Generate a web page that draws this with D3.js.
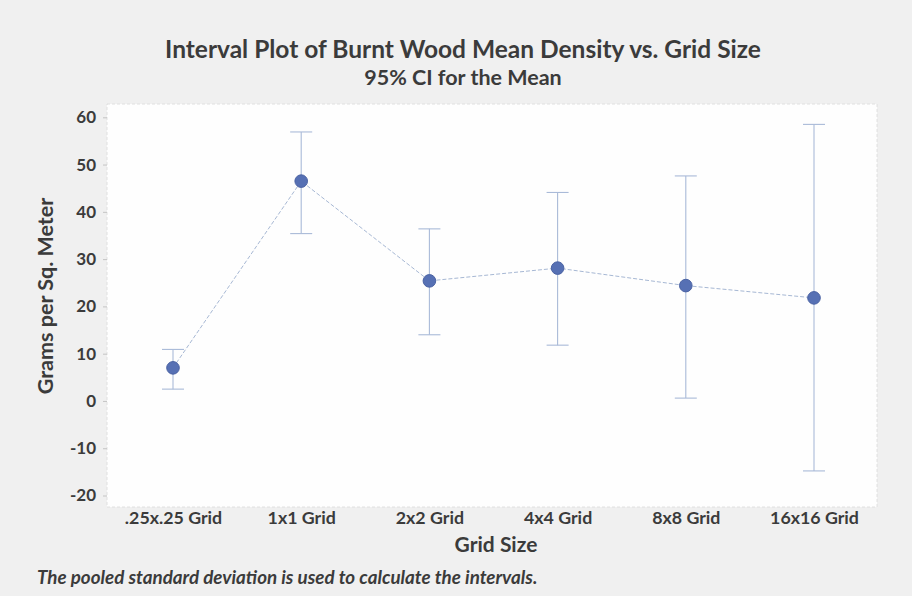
<!DOCTYPE html>
<html>
<head>
<meta charset="utf-8">
<script src="https://cdn.jsdelivr.net/npm/d3@7"></script>
<style>
  html, body { margin: 0; padding: 0; background: #f0f0f0; }
  svg { display: block; }
  text { font-family: Lato, "Open Sans", sans-serif; fill: #3b3b3b; }
</style>
</head>
<body>
<svg id="chart" width="912" height="596"></svg>
<script>
// Grid sizes and the 95% confidence interval for each mean (g per sq. m)
const categories = [".25x.25 Grid", "1x1 Grid", "2x2 Grid", "4x4 Grid", "8x8 Grid", "16x16 Grid"];
const means = [7.0, 46.5, 25.4, 28.1, 24.4, 21.8];
const lowerCI = [2.5, 35.4, 14.0, 11.8, 0.6, -14.8];
const upperCI = [10.9, 56.9, 36.4, 44.1, 47.6, 58.5];
const yTicks = [60, 50, 40, 30, 20, 10, 0, -10, -20];

const svg = d3.select("#chart");

const plot = { left: 107, right: 877, top: 104, bottom: 507 };

const x = d3.scalePoint().domain(categories).range([173, 814]);
const y = d3.scaleLinear().domain([-20, 60]).range([495.5, 117.3]);

// plot region
svg.append("rect")
  .attr("x", plot.left).attr("y", plot.top)
  .attr("width", plot.right - plot.left).attr("height", plot.bottom - plot.top)
  .attr("fill", "#fefefe")
  .attr("stroke", "#dadada").attr("stroke-width", 0.8)
  .attr("stroke-dasharray", "3,2");

// titles
svg.append("text").attr("x", 463).attr("y", 58).attr("text-anchor", "middle")
  .attr("font-size", 24.5).attr("font-weight", 700)
  .attr("fill", "#2f2f2f")
  .text("Interval Plot of Burnt Wood Mean Density vs. Grid Size");
svg.append("text").attr("x", 463).attr("y", 85).attr("text-anchor", "middle")
  .attr("font-size", 21.5).attr("font-weight", 700)
  .attr("fill", "#2f2f2f")
  .text("95% CI for the Mean");

// y axis (plain hyphen for negative values)
const yAxis = d3.axisLeft(y).tickValues(yTicks).tickSize(4).tickPadding(7)
  .tickFormat(d => String(d));
const gy = svg.append("g").attr("transform", `translate(${plot.left},0)`).call(yAxis);
gy.select(".domain").remove();
gy.selectAll(".tick line").attr("stroke", "#c4c4c4");
gy.selectAll(".tick text").attr("font-size", 17).attr("font-weight", 700)
  .attr("fill", "#444").attr("font-family", "Lato, sans-serif");

// x axis labels
const xAxis = d3.axisBottom(x).tickSize(0).tickPadding(0);
const gx = svg.append("g").attr("transform", `translate(0,${plot.bottom})`).call(xAxis);
gx.select(".domain").remove();
gx.selectAll(".tick text").attr("dy", "0.95em").attr("font-size", 17.8).attr("font-weight", 700)
  .attr("fill", "#3b3b3b").attr("font-family", "Lato, sans-serif");

// axis titles
svg.append("text").attr("x", 496).attr("y", 552).attr("text-anchor", "middle")
  .attr("font-size", 21).attr("font-weight", 700).attr("fill", "#3a3a3a")
  .text("Grid Size");
svg.append("text")
  .attr("transform", "translate(53,296) rotate(-90)")
  .attr("text-anchor", "middle")
  .attr("font-size", 21.5).attr("font-weight", 700).attr("fill", "#3a3a3a")
  .text("Grams per Sq. Meter");

// footnote
svg.append("text").attr("x", 37).attr("y", 584)
  .attr("font-size", 18.8).attr("font-style", "italic").attr("font-weight", 700)
  .attr("fill", "#333")
  .text("The pooled standard deviation is used to calculate the intervals.");

// connecting line through the means
const data = categories.map((c, i) => ({ c, m: means[i], lo: lowerCI[i], hi: upperCI[i] }));
const line = d3.line().x(d => x(d.c)).y(d => y(d.m));
svg.append("path").datum(data)
  .attr("d", line)
  .attr("fill", "none")
  .attr("stroke", "#a7b8d4").attr("stroke-width", 1)
  .attr("stroke-dasharray", "4,2");

// interval bars
const bars = svg.append("g").selectAll("g").data(data).join("g")
  .attr("stroke", "#a9bad8").attr("stroke-width", 1.1);
bars.append("line")
  .attr("x1", d => x(d.c)).attr("x2", d => x(d.c))
  .attr("y1", d => y(d.hi)).attr("y2", d => y(d.lo));
bars.append("line")
  .attr("x1", d => x(d.c) - 11).attr("x2", d => x(d.c) + 11)
  .attr("y1", d => y(d.hi)).attr("y2", d => y(d.hi));
bars.append("line")
  .attr("x1", d => x(d.c) - 11).attr("x2", d => x(d.c) + 11)
  .attr("y1", d => y(d.lo)).attr("y2", d => y(d.lo));

// mean symbols
svg.append("g").selectAll("circle").data(data).join("circle")
  .attr("cx", d => x(d.c)).attr("cy", d => y(d.m)).attr("r", 6.3)
  .attr("fill", "#5670b4").attr("stroke", "#4a62a3").attr("stroke-width", 1);
</script>
</body>
</html>
